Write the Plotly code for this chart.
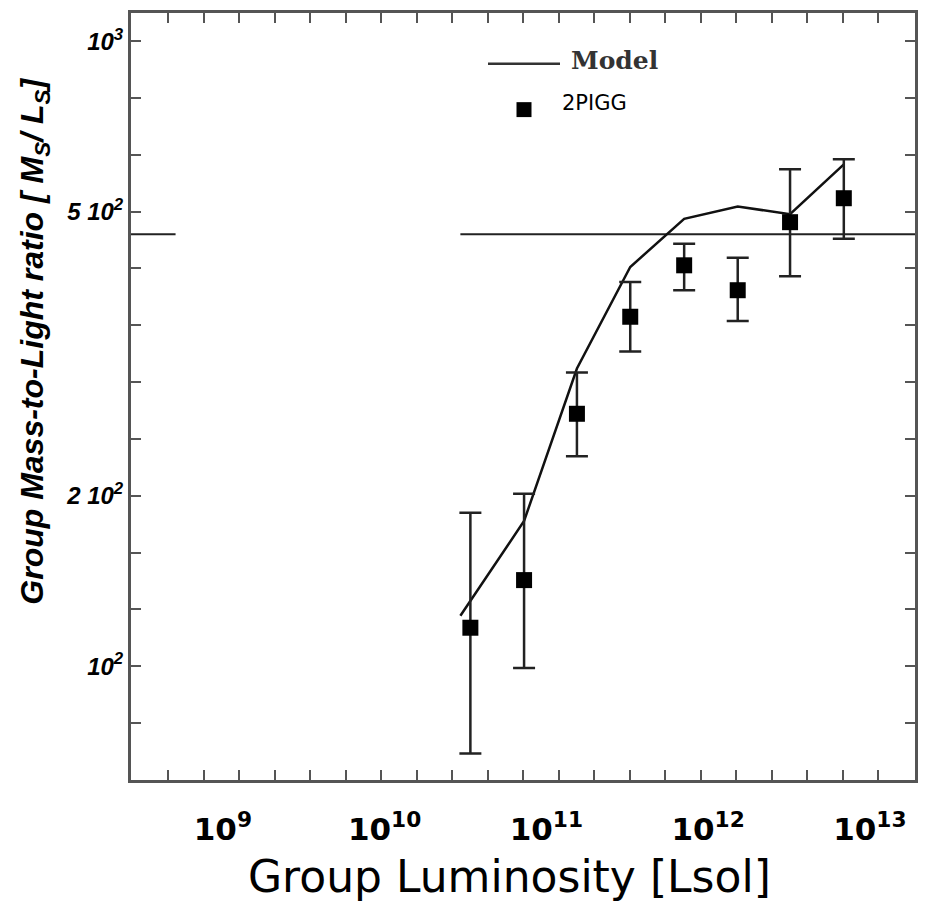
import plotly.graph_objects as go

# ---- data ----
lum_data = [3.39e10, 7.28e10, 1.545e11, 3.30e11, 7.11e11, 1.524e12, 3.21e12, 6.90e12]
ml_data = [115.2, 137.3, 253.4, 362.3, 437.9, 399.5, 513.3, 560.7]
ml_err_hi = [176.0, 188.7, 294.9, 411.9, 474.1, 450.4, 623.6, 647.0]
ml_err_lo = [72.5, 99.3, 216.6, 318.7, 399.5, 356.6, 420.6, 482.9]

lum_model = [2.94e10, 7.28e10, 1.545e11, 3.30e11, 7.11e11, 1.524e12, 3.21e12, 6.90e12]
ml_model = [120.4, 170.7, 299.4, 435.2, 519.6, 543.8, 528.6, 635.0]

# horizontal reference line (partly blanked in the original)
hline_x = [1e8, 5.1e8, None, 2.94e10, 3e13]
hline_y = [491, 491, None, 491, 491]

x_label_vals = [1e9, 1e10, 1e11, 1e12, 1e13]
x_label_text = ["10<sup>9</sup>", "10<sup>10</sup>", "10<sup>11</sup>", "10<sup>12</sup>", "10<sup>13</sup>"]
x_tick_logs = [8.661 + 0.2196 * k for k in range(21)]

y_tick_logs = [2 + k / 11 for k in range(-1, 13)]
y_label_map = {0: "10<sup>2</sup>", 3: "2 10<sup>2</sup>", 8: "5 10<sup>2</sup>", 11: "10<sup>3</sup>"}

x_range_log = [8.432, 13.279]
y_range_log = [1.8178, 3.0451]

# ---- figure ----
err_plus = [h - v for h, v in zip(ml_err_hi, ml_data)]
err_minus = [v - l for v, l in zip(ml_data, ml_err_lo)]

fig = go.Figure()
fig.add_trace(go.Scatter(x=hline_x, y=hline_y, mode="lines",
                         line=dict(color="#222", width=2.2), showlegend=False, hoverinfo="skip"))
fig.add_trace(go.Scatter(x=lum_model, y=ml_model, mode="lines", name="Model",
                         line=dict(color="#111", width=2.5), showlegend=False))
fig.add_trace(go.Scatter(x=lum_data, y=ml_data, mode="markers", name="2PIGG",
                         marker=dict(symbol="square", size=16, color="black"),
                         error_y=dict(type="data", symmetric=False, array=err_plus,
                                      arrayminus=err_minus, color="#222", thickness=2.5, width=11),
                         showlegend=False))

ytickvals = [10 ** v for v in y_tick_logs]
yticktext = [y_label_map.get(k, "") for k in range(-1, 13)]

axis_col = "#555"
fig.update_layout(
    width=929, height=904,
    margin=dict(l=131, r=14, t=10, b=124),
    paper_bgcolor="white", plot_bgcolor="white",
    xaxis=dict(type="log", range=x_range_log, showgrid=False, zeroline=False,
               showline=True, linecolor=axis_col, linewidth=3, mirror="ticks",
               tickvals=x_label_vals, ticktext=x_label_text, ticks="",
               ticklabelstandoff=20,
               tickfont=dict(family="DejaVu Sans", size=31, color="black", weight="bold"),
               minor=dict(tickvals=[10 ** v for v in x_tick_logs], ticks="inside",
                          ticklen=10, tickwidth=2, tickcolor=axis_col, showgrid=False)),
    yaxis=dict(type="log", range=y_range_log, showgrid=False, zeroline=False,
               showline=True, linecolor=axis_col, linewidth=3, mirror="ticks",
               tickvals=ytickvals, ticktext=yticktext, ticks="inside",
               ticklen=10, tickwidth=2, tickcolor=axis_col,
               tickfont=dict(family="Liberation Sans", size=24, color="black",
                             weight="bold", style="italic")),
    showlegend=False,
)

def px(xp):
    return (xp - 131) / 784

def py(yp):
    return (780 - yp) / 770

annotations = [
    dict(text="Group Luminosity [Lsol]", x=px(509), y=py(877), xref="paper", yref="paper",
         xanchor="center", yanchor="middle", showarrow=False,
         font=dict(family="DejaVu Sans", size=44, color="black")),
    dict(text="Group Mass-to-Light ratio [ M<sub>S</sub>/ L<sub>S</sub>]", x=px(35), y=py(340),
         xref="paper", yref="paper", xanchor="center", yanchor="middle", showarrow=False,
         textangle=-90,
         font=dict(family="Liberation Sans", size=32, color="black", weight="bold", style="italic")),
    dict(text="Model", x=px(569), y=py(58), xref="paper", yref="paper",
         xanchor="left", yanchor="middle", showarrow=False,
         font=dict(family="DejaVu Serif", size=25, color="#333", weight="bold")),
    dict(text="2PIGG", x=px(560), y=py(100), xref="paper", yref="paper",
         xanchor="left", yanchor="middle", showarrow=False,
         font=dict(family="DejaVu Sans", size=21, color="black")),
]
shapes = [
    dict(type="line", xref="paper", yref="paper", x0=px(488), x1=px(560), y0=py(61), y1=py(61),
         line=dict(color="#333", width=2.5)),
    dict(type="rect", xref="paper", yref="paper", x0=px(516.5), x1=px(531.5), y0=py(114.5), y1=py(99.5),
         fillcolor="black", line=dict(width=0)),
]
fig.update_layout(annotations=annotations, shapes=shapes)

fig.write_html("out.html")
